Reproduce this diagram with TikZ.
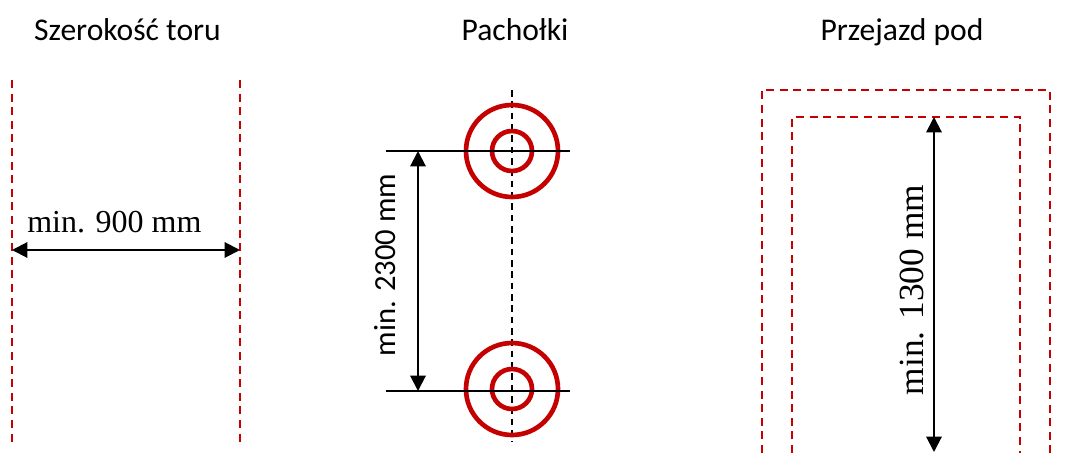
\documentclass[tikz,border=0pt]{standalone}
\usepackage{fontspec}
\setmainfont{Liberation Serif}
\newfontfamily\carlito{Carlito}
\usetikzlibrary{arrows.meta}
\definecolor{dred}{RGB}{196,0,0}
\begin{document}
\begin{tikzpicture}[x=0.75pt,y=-0.75pt,
  title/.style={font=\carlito\fontsize{23.7}{27}\selectfont,anchor=base,inner sep=0pt},
  reddash/.style={draw=dred,line width=1.6pt,dash pattern=on 6pt off 4.2pt},
  axisline/.style={draw=black,line width=1.3pt,dash pattern=on 5pt off 3.5pt},
  ring/.style={draw=dred,line width=3.5pt},
  refline/.style={draw=black,line width=1.1pt},
  dimarrow/.style={draw=black,line width=1.5pt,{Triangle[length=11.5pt,width=11.5pt]}-{Triangle[length=11.5pt,width=11.5pt]}},
  serlab/.style={font=\fontsize{24}{28}\selectfont,inner sep=0pt},
  sanlab/.style={font=\carlito\fontsize{23}{27}\selectfont,inner sep=0pt}]
\useasboundingbox (0,0) rectangle (1082,453);
% titles
\node[title] (t1) at (127.5,41) {Szerokość toru};
\node[title] (t2) at (515,41) {Pachołki};
\node[title] (t3) at (902,41) {Przejazd pod};
% ---- left panel
\coordinate (l1a) at (12,80); \coordinate (l1b) at (12,445);
\coordinate (l2a) at (240,80); \coordinate (l2b) at (240,445);
\draw[reddash] (l1a) -- (l1b);
\draw[reddash] (l2a) -- (l2b);
\coordinate (wl) at (12,250); \coordinate (wr) at (240,250);
\draw[dimarrow] (wl) -- (wr);
\node[serlab,anchor=base west] (w) at (27,232) {min. 900 mm};
% ---- middle panel
\coordinate (ax1) at (512,90); \coordinate (ax2) at (512,442);
\draw[axisline] (ax1) -- (ax2);
\coordinate (c1) at (512,151); \coordinate (c2) at (512,389);
\draw[ring] (c1) circle[radius=46];
\draw[ring] (c1) circle[radius=20];
\draw[ring] (c2) circle[radius=46];
\draw[ring] (c2) circle[radius=20];
\coordinate (h1a) at (386,151); \coordinate (h1b) at (570,151);
\coordinate (h2a) at (386,391); \coordinate (h2b) at (570,391);
\draw[refline] (h1a) -- (h1b);
\draw[refline] (h2a) -- (h2b);
\coordinate (ma) at (418,151); \coordinate (mb) at (418,391);
\draw[dimarrow] (ma) -- (mb);
\node[sanlab,rotate=90,anchor=base] (m) at (395,265) {min. 2300 mm};
% ---- right panel
\coordinate (o1) at (762,453); \coordinate (o2) at (762,90);
\coordinate (o3) at (1050,90); \coordinate (o4) at (1050,453);
\draw[reddash] (o1) -- (o2) -- (o3) -- (o4);
\coordinate (i1) at (792,453); \coordinate (i2) at (792,117);
\coordinate (i3) at (1020,117); \coordinate (i4) at (1020,453);
\draw[reddash] (i1) -- (i2) -- (i3) -- (i4);
\coordinate (ra) at (934,117); \coordinate (rb) at (934,452);
\draw[dimarrow] (ra) -- (rb);
\node[serlab,font=\fontsize{26.5}{31}\selectfont,rotate=90,anchor=base] (r) at (923,290) {min. 1300 mm};
\end{tikzpicture}
\end{document}
